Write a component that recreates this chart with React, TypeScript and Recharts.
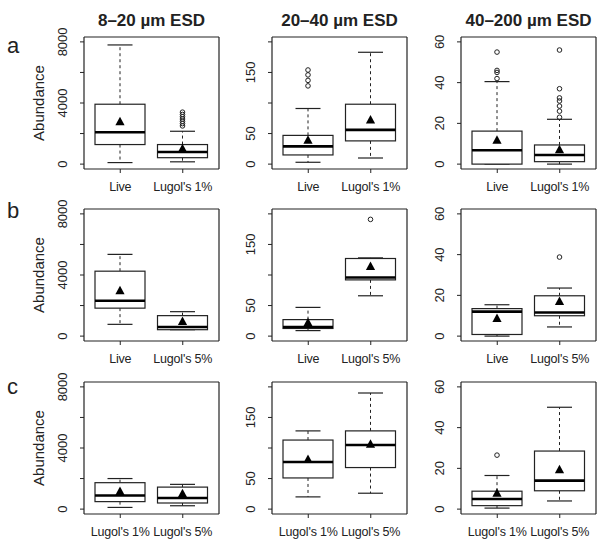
import React from 'react';
import { ComposedChart, Bar, XAxis, YAxis, ReferenceLine } from 'recharts';

const rowCategories = [
  ['Live', "Lugol's 1%"],
  ['Live', "Lugol's 5%"],
  ["Lugol's 1%", "Lugol's 5%"],
];
const rowLetters = ['a', 'b', 'c'];
const columnTitles = ['8–20 µm ESD', '20–40 µm ESD', '40–200 µm ESD'];
const yMax = [8000, 200, 60];
const yTicks = [
  [0, 2000, 4000, 6000, 8000],
  [0, 50, 100, 150, 200],
  [0, 10, 20, 30, 40, 50, 60],
];
const yTickLabels = [
  [0, 4000, 8000],
  [0, 50, 150],
  [0, 20, 40, 60],
];

// indexed [row][column] -> [first box, second box]
const lowWhisker = [
  [[100, 150], [3, 10], [0, 0]],
  [[770, 420], [9, 66], [0, 4.5]],
  [[110, 220], [20, 26], [0.5, 4]],
];
const q1 = [
  [[1280, 420], [15, 38], [0, 1.2]],
  [[1830, 420], [12.5, 92], [0.8, 10]],
  [[490, 400], [51, 68], [1.7, 9]],
];
const median = [
  [[2090, 790], [29, 56], [6.8, 4.5]],
  [[2310, 600], [15, 96], [12, 11.6]],
  [[890, 730], [77, 105], [5, 14]],
];
const q3 = [
  [[3920, 1280], [47, 98], [16.2, 9.4]],
  [[4250, 1340], [27, 127], [13.5, 19.8]],
  [[1730, 1440], [113, 128], [8.8, 28.5]],
];
const highWhisker = [
  [[7800, 2150], [91, 183], [40.5, 22]],
  [[5350, 1600], [47, 128], [15.4, 23.6]],
  [[2000, 1620], [128, 190], [16.5, 50]],
];
const means = [
  [[2780, 1010], [39, 72], [11.7, 7.1]],
  [[2970, 950], [22, 114], [8.6, 17]],
  [[1160, 1000], [81, 106], [7.8, 19.3]],
];
const outliers = [
  [[[], [3400, 3250, 3100, 2950, 2800, 2650, 2500]], [[154, 146, 137, 128], []], [[55, 46, 45, 42], [56, 37, 32.5, 31, 28.5, 26, 23]]],
  [[[], []], [[], [191]], [[], [38.8]]],
  [[[], []], [[], []], [[26.5], []]],
];

const FONT = '"Liberation Sans", Arial, Helvetica, sans-serif';
const INK = '#222';

// layout of the plot frames
const frameLeft = [84, 272, 461];
const frameTop = [37, 209, 382];
const frameW = 135;
const frameH = 132;
const axisW = 50;
const marginTop = 20;
const xAxisH = 26;

function BoxShape(props: any) {
  const { x, y, width, height, payload } = props;
  const top = Math.min(y, y + height);
  const bottom = Math.max(y, y + height);
  const [lo, hi] = payload.range;
  const py = (v: number) => bottom - ((v - lo) / (hi - lo)) * (bottom - top);
  const cx = x + width / 2;
  const cap = width / 4;
  const yq1 = py(payload.q1);
  const yq3 = py(payload.q3);
  const ym = py(payload.mean);
  return (
    <g>
      <line x1={cx} x2={cx} y1={yq3} y2={top} stroke={INK} strokeWidth={1} strokeDasharray="3 3" />
      <line x1={cx} x2={cx} y1={yq1} y2={bottom} stroke={INK} strokeWidth={1} strokeDasharray="3 3" />
      <line x1={cx - cap} x2={cx + cap} y1={top} y2={top} stroke={INK} strokeWidth={1.2} />
      <line x1={cx - cap} x2={cx + cap} y1={bottom} y2={bottom} stroke={INK} strokeWidth={1.2} />
      <rect x={x} y={yq3} width={width} height={Math.max(yq1 - yq3, 0.5)} fill="#fff" stroke={INK} strokeWidth={1.2} />
      <line x1={x} x2={x + width} y1={py(payload.median)} y2={py(payload.median)} stroke="#000" strokeWidth={2.6} />
      {payload.outliers.map((v: number, i: number) => (
        <circle key={i} cx={cx} cy={py(v)} r={2.3} fill="none" stroke={INK} strokeWidth={1} />
      ))}
      <polygon points={`${cx},${ym - 5} ${cx - 4.6},${ym + 3.5} ${cx + 4.6},${ym + 3.5}`} fill="#000" />
    </g>
  );
}

function Panel({ row, col }: { row: number; col: number }) {
  const data = rowCategories[row].map((name, i) => ({
    name,
    range: [lowWhisker[row][col][i], highWhisker[row][col][i]],
    q1: q1[row][col][i],
    median: median[row][col][i],
    q3: q3[row][col][i],
    mean: means[row][col][i],
    outliers: outliers[row][col][i],
  }));
  const max = yMax[col];
  const domain = [-0.04 * max, 1.04 * max];
  const labels = yTickLabels[col];
  const YTick = (p: any) => {
    const v = p.payload.value;
    if (!labels.includes(v)) return <g />;
    const bx = p.x - 11;
    return (
      <text x={bx} y={p.y} transform={`rotate(-90 ${bx} ${p.y})`} textAnchor="middle" fontSize={13} fill={INK} fontFamily={FONT}>
        {v}
      </text>
    );
  };
  return (
    <div style={{ position: 'absolute', left: frameLeft[col] - axisW, top: frameTop[row] - marginTop }}>
      <ComposedChart
        width={axisW + frameW + 1 + 5}
        height={marginTop + frameH + xAxisH}
        data={data}
        margin={{ top: marginTop, right: 5, bottom: 0, left: 0 }}
      >
        <XAxis
          dataKey="name"
          type="category"
          interval={0}
          padding={{ left: 5, right: 5 }}
          height={xAxisH}
          tickSize={4}
          tickMargin={9}
          axisLine={{ stroke: INK, strokeWidth: 1.2 }}
          tickLine={{ stroke: INK }}
          tick={{ fontSize: 12.5, fill: INK, fontFamily: FONT, letterSpacing: -0.2 }}
        />
        <YAxis
          type="number"
          domain={domain}
          ticks={yTicks[col]}
          allowDataOverflow
          width={axisW}
          tickSize={4}
          tickMargin={2}
          axisLine={{ stroke: INK, strokeWidth: 1.2 }}
          tickLine={{ stroke: INK }}
          tick={YTick}
        />
        <YAxis
          yAxisId="frame"
          orientation="right"
          type="number"
          domain={domain}
          width={1}
          tick={false}
          tickLine={false}
          axisLine={{ stroke: INK, strokeWidth: 1.2 }}
        />
        <ReferenceLine y={domain[1]} stroke={INK} strokeWidth={1.2} ifOverflow="extendDomain" />
        <Bar dataKey="range" barSize={50} isAnimationActive={false} shape={(p: any) => <BoxShape {...p} />} />
      </ComposedChart>
    </div>
  );
}

export default function App() {
  return (
    <div
      style={{
        position: 'absolute',
        left: 0,
        top: 0,
        width: 602,
        height: 539,
        overflow: 'hidden',
        background: '#fff',
        fontFamily: FONT,
      }}
    >
      {rowCategories.map((_, row) =>
        columnTitles.map((__, col) => <Panel key={`${row}-${col}`} row={row} col={col} />)
      )}
      <svg width={602} height={539} style={{ position: 'absolute', left: 0, top: 0, pointerEvents: 'none' }}>
        {columnTitles.map((t, col) => (
          <text key={t} x={frameLeft[col] + frameW / 2} y={26} textAnchor="middle" fontSize={17} fontWeight="bold" fill={INK} fontFamily={FONT}>
            {t}
          </text>
        ))}
        {rowLetters.map((l, row) => (
          <text key={l} x={7} y={[53, 218, 394][row]} fontSize={22} fill={INK} fontFamily={FONT}>
            {l}
          </text>
        ))}
        {rowLetters.map((l, row) => {
          const cy = frameTop[row] + frameH / 2;
          return (
            <text key={`ab-${l}`} x={43.5} y={cy} transform={`rotate(-90 43.5 ${cy})`} textAnchor="middle" fontSize={15} fill={INK} fontFamily={FONT}>
              Abundance
            </text>
          );
        })}
      </svg>
    </div>
  );
}
